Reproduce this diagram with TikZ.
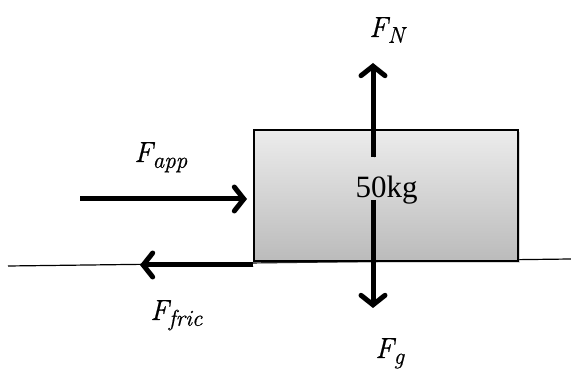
\documentclass[tikz,border=0pt]{standalone}
\usepackage{fontspec}
\newfontfamily\timesf{Liberation Serif}
\newfontfamily\lblf{Latin Modern Roman}[ItalicFeatures={FakeBold=0.6}]
\usetikzlibrary{arrows.meta,shadows}
\definecolor{boxtop}{HTML}{ECECEC}
\definecolor{boxbot}{HTML}{BBBBBB}
\newcommand{\forcelbl}[1]{\lblf\itshape F\raisebox{-0.2em}{\fontsize{23}{23}\selectfont #1}}
\begin{document}
\begin{tikzpicture}[x=1pt,y=1pt,
  force/.style={line width=5pt, -{Straight Barb[length=9.5pt,width=24pt,line cap=round]},
    preaction={draw=black!40, opacity=0.4, transform canvas={shift={(1.2pt,-1.5pt)}}}},
  lbl/.style={inner sep=0pt, anchor=base west, font=\fontsize{29}{29}\selectfont},
]
\useasboundingbox (0,0) rectangle (571,369);
% ground
\coordinate (g1) at (8,103);
\coordinate (g2) at (571,110);
\draw[line width=1.2pt] (g1) -- (g2);
% block
\node[draw, line width=1.3pt, top color=boxtop, bottom color=boxbot,
  minimum width=264pt, minimum height=131pt, inner sep=0pt,
  drop shadow={opacity=0.3, shadow xshift=2pt, shadow yshift=-2pt}] (box) at (386,173.5) {};
\node[inner sep=0pt, anchor=base, font=\timesf\fontsize{31}{31}\selectfont] (mass) at (386.5,171) {50kg};
% arrow end points
\coordinate (n0) at (373,212);
\coordinate (n1) at (373,306);
\coordinate (w0) at (373,169);
\coordinate (w1) at (373,61);
\coordinate (a0) at (80,170);
\coordinate (a1) at (247,170);
\coordinate (f0) at (253,104);
\coordinate (f1) at (140,104);
\draw[force] (n0) -- (n1);
\draw[force] (w0) -- (w1);
\draw[force] (a0) -- (a1);
\draw[force] (f0) -- (f1);
% labels
\node[lbl] (lN) at (369,332) {\forcelbl{N}};
\node[lbl] (lg) at (375,11) {\forcelbl{g}};
\node[lbl] (lapp) at (134,207) {\forcelbl{app}};
\node[lbl] (lfric) at (150,49) {\forcelbl{fric}};
\end{tikzpicture}
\end{document}
